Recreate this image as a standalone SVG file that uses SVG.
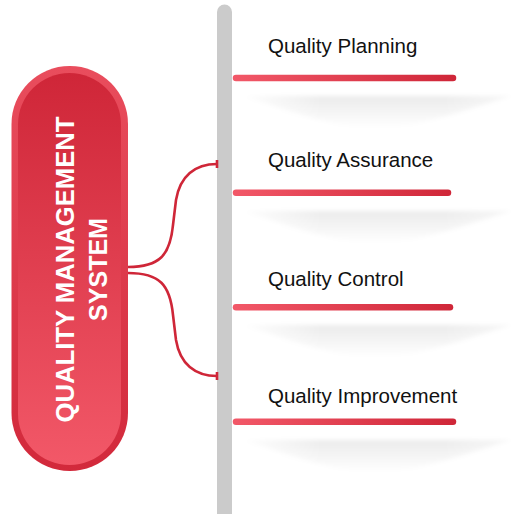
<svg xmlns="http://www.w3.org/2000/svg" width="512" height="514" viewBox="0 0 512 514">
  <defs>
    <linearGradient id="pillOuter" x1="0" y1="0" x2="0" y2="1">
      <stop offset="0" stop-color="#e94d5d"/>
      <stop offset="1" stop-color="#d2293b"/>
    </linearGradient>
    <linearGradient id="pillInner" x1="0" y1="0" x2="0" y2="1">
      <stop offset="0" stop-color="#cf2638"/>
      <stop offset="1" stop-color="#f25868"/>
    </linearGradient>
    <linearGradient id="bar" gradientUnits="userSpaceOnUse" x1="233" y1="0" x2="456" y2="0">
      <stop offset="0" stop-color="#f25868"/>
      <stop offset="1" stop-color="#cf2638"/>
    </linearGradient>
    <linearGradient id="shadowFill" x1="0" y1="0" x2="0" y2="1">
      <stop offset="0" stop-color="#000" stop-opacity="0.08"/>
      <stop offset="1" stop-color="#000" stop-opacity="0"/>
    </linearGradient>
    <linearGradient id="fadeEnds" gradientUnits="userSpaceOnUse" x1="240" y1="0" x2="512" y2="0">
      <stop offset="0" stop-color="#fff" stop-opacity="0"/>
      <stop offset="0.3" stop-color="#fff" stop-opacity="1"/>
      <stop offset="0.75" stop-color="#fff" stop-opacity="1"/>
      <stop offset="1" stop-color="#fff" stop-opacity="0.4"/>
    </linearGradient>
    <mask id="shadowMask" maskUnits="userSpaceOnUse" x="220" y="-10" width="300" height="60">
      <rect x="220" y="-10" width="300" height="60" fill="url(#fadeEnds)"/>
    </mask>
    <filter id="soft" x="-10%" y="-50%" width="120%" height="200%">
      <feGaussianBlur stdDeviation="2"/>
    </filter>
    <g id="shadowShape" mask="url(#shadowMask)">
      <path d="M240,0 L512,0 C470,12 420,32 375,32 C330,32 285,12 240,0 Z" fill="url(#shadowFill)" filter="url(#soft)"/>
    </g>
  </defs>
  <style>
    .label { font-family: "Liberation Sans", Arial, sans-serif; font-size: 20.5px; fill: #111; }
    .title { font-family: "Liberation Sans", Arial, sans-serif; font-size: 25px; font-weight: bold; fill: #fff; }
    .line { stroke: url(#bar); stroke-width: 6.5; stroke-linecap: round; fill: none; }
    .conn { stroke: #cf2638; stroke-width: 2.6; fill: none; }
  </style>

  <!-- vertical spine -->
  <g id="spine">
    <path d="M217,514 L217,12 A7.5,7.5 0 0 1 232,12 L232,514 Z" fill="#cbcbcb"/>
  </g>

  <!-- connectors from the main pill to the spine -->
  <g id="connectors">
    <path class="conn" d="M128,267 C160,267 170,255 173,225 L176,200 C180,176 195,164 217,164"/>
    <path class="conn" d="M128,273 C160,273 170,285 173,315 L176,340 C180,364 195,376 217,376"/>
    <path class="conn" d="M217,160 L217,168 M217,372 L217,380" stroke-width="2"/>
  </g>

  <!-- main node -->
  <g id="qms">
    <rect x="11.5" y="66" width="116.5" height="405" rx="58" fill="url(#pillOuter)"/>
    <rect x="18" y="73" width="103" height="392" rx="51.5" fill="url(#pillInner)"/>
    <g transform="translate(0,269.5) rotate(-90)">
      <text class="title" x="0" y="74" text-anchor="middle" textLength="306" lengthAdjust="spacingAndGlyphs">QUALITY MANAGEMENT</text>
      <text class="title" x="0" y="107" text-anchor="middle">SYSTEM</text>
    </g>
  </g>

  <g id="planning">
    <use href="#shadowShape" transform="translate(0,96)"/>
    <line class="line" x1="236" y1="78" x2="453" y2="78"/>
    <text class="label" x="268" y="52.7">Quality Planning</text>
  </g>

  <g id="assurance">
    <use href="#shadowShape" transform="translate(0,211)"/>
    <line class="line" x1="236" y1="192.7" x2="448" y2="192.7"/>
    <text class="label" x="268" y="167.3">Quality Assurance</text>
  </g>

  <g id="control">
    <use href="#shadowShape" transform="translate(0,325)"/>
    <line class="line" x1="236" y1="307.3" x2="450" y2="307.3"/>
    <text class="label" x="268" y="285.7">Quality Control</text>
  </g>

  <g id="improvement">
    <use href="#shadowShape" transform="translate(0,440)"/>
    <line class="line" x1="236" y1="421.7" x2="453" y2="421.7"/>
    <text class="label" x="268" y="402.7">Quality Improvement</text>
  </g>
</svg>
